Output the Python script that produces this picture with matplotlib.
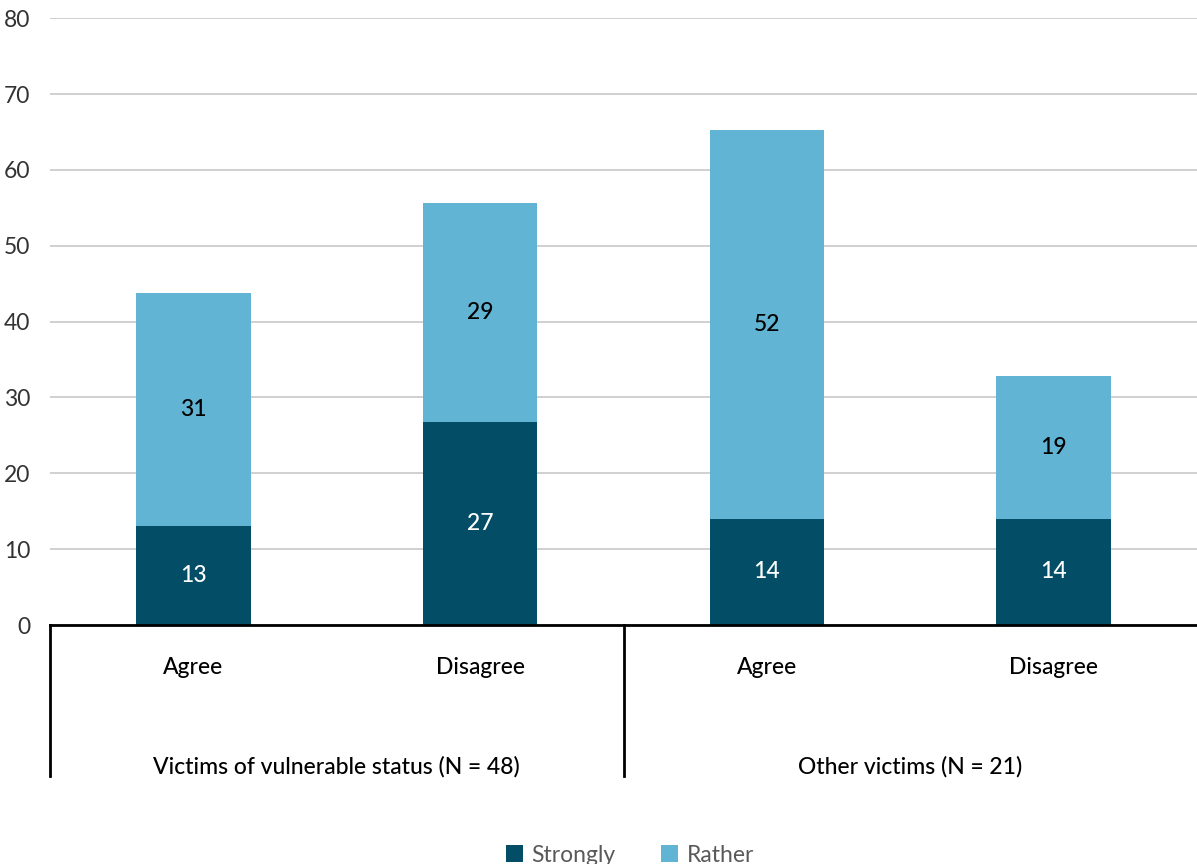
import matplotlib
matplotlib.use("Agg")
import matplotlib.pyplot as plt
import numpy as np

categories = ["Agree", "Disagree", "Agree", "Disagree"]
groups = ["Victims of vulnerable status (N = 48)", "Other victims (N = 21)"]
strongly = [13.1, 26.8, 14.0, 14.0]
rather = [30.7, 28.8, 51.3, 18.8]
strongly_labels = ["13", "27", "14", "14"]
rather_labels = ["31", "29", "52", "19"]
yticks = [0, 10, 20, 30, 40, 50, 60, 70, 80]

DARK = "#034e66"
LIGHT = "#62b4d4"
FONT = ["Lato", "DejaVu Sans"]
plt.rcParams["font.family"] = FONT
FS = 16.5

W, H = 1197, 864
fig = plt.figure(figsize=(W / 100, H / 100), dpi=100)
ax_left, ax_right, ax_top, ax_bot = 50, 1197, 18.3, 625
ax = fig.add_axes([ax_left / W, 1 - ax_bot / H, (ax_right - ax_left) / W, (ax_bot - ax_top) / H])

x = np.arange(len(categories))
b1 = ax.bar(x, strongly, width=0.4, color=DARK, label="Strongly", zorder=3)
b2 = ax.bar(x, rather, width=0.4, bottom=strongly, color=LIGHT, label="Rather", zorder=3)

for i in range(len(x)):
    ax.text(x[i], strongly[i] / 2, strongly_labels[i], ha="center", va="center",
            color="white", fontsize=FS, fontweight="medium", zorder=4)
    ax.text(x[i], strongly[i] + rather[i] / 2, rather_labels[i], ha="center", va="center",
            color="black", fontsize=FS, fontweight="medium", zorder=4)

ax.set_xlim(-0.5, 3.5)
ax.set_ylim(0, 80)
ax.set_yticks(yticks)
ax.set_yticklabels([str(v) for v in yticks], fontsize=FS, color="#333333")
ax.tick_params(axis="y", length=0, pad=14)
ax.set_xticks([])
ax.yaxis.grid(True, color="#d0d0d0", linewidth=1.4, zorder=0)
for s in ["top", "right", "left"]:
    ax.spines[s].set_visible(False)
ax.spines["bottom"].set_color("black")
ax.spines["bottom"].set_linewidth(2)
ax.spines["bottom"].set_zorder(5)

axh = ax_bot - ax_top
def ay(py):
    return -(py - ax_bot) / axh

trans = matplotlib.transforms.blended_transform_factory(ax.transData, ax.transAxes)
for xs in [-0.5, 1.5]:
    ax.plot([xs, xs], [0, ay(776)], transform=trans, color="black", linewidth=2, clip_on=False)

for i, c in enumerate(categories):
    ax.text(x[i], ay(668), c, transform=trans, ha="center", va="center", fontsize=FS,
            fontweight="medium", color="black")
for g, gx in zip(groups, [0.5, 2.5]):
    ax.text(gx, ay(767), g, transform=trans, ha="center", va="center", fontsize=FS,
            fontweight="medium", color="black")

leg = fig.legend(handles=[b1, b2], labels=["Strongly", "Rather"], loc="center",
                 bbox_to_anchor=(630 / W, 1 - 855 / H), ncol=2, frameon=False,
                 fontsize=FS, handlelength=0.75, handleheight=0.75, columnspacing=2.0,
                 handletextpad=0.35)
for t in leg.get_texts():
    t.set_color("#595959")

fig.savefig("out.png", dpi=100)
